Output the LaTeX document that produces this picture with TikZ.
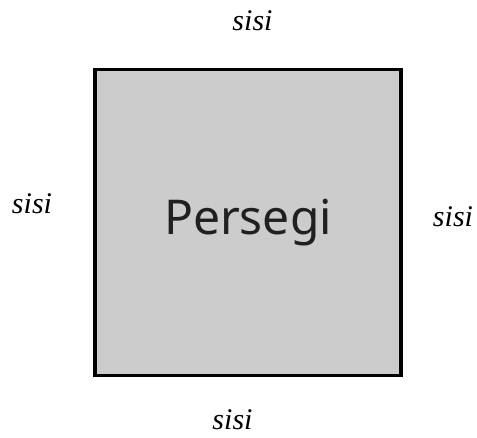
\documentclass[tikz,border=0pt]{standalone}
\usepackage{fontspec}
\setmainfont{Liberation Serif}
\setsansfont{Noto Sans}
\usepackage{tikz}
\usetikzlibrary{positioning}
\definecolor{boxgray}{RGB}{204,204,204}
\definecolor{textgray}{RGB}{32,32,32}
\tikzset{
    x=1pt, y=-1pt, % one unit is one pixel of the reference
    square/.style={draw, line width=3.5pt, fill=boxgray, minimum size=306pt, inner sep=0pt,
        font=\sffamily\fontsize{48}{48}\selectfont, text=textgray}, % the square itself
    side/.style={anchor=base, inner sep=0pt, font=\itshape\fontsize{30}{30}\selectfont}, % the labels on each side
}
\begin{document}
\begin{tikzpicture}
                            \useasboundingbox (0,0) rectangle (477,438);
                            \node[square] (q) at (248,222.5) {Persegi};
                            \node[side] (s1) at (252.5,31) {sisi};
                            \node[side] (s2) at (32,214) {sisi};
                            \node[side] (s3) at (453,227) {sisi};
                            \node[side] (s4) at (232.5,430) {sisi};
                        \end{tikzpicture}
\end{document}
